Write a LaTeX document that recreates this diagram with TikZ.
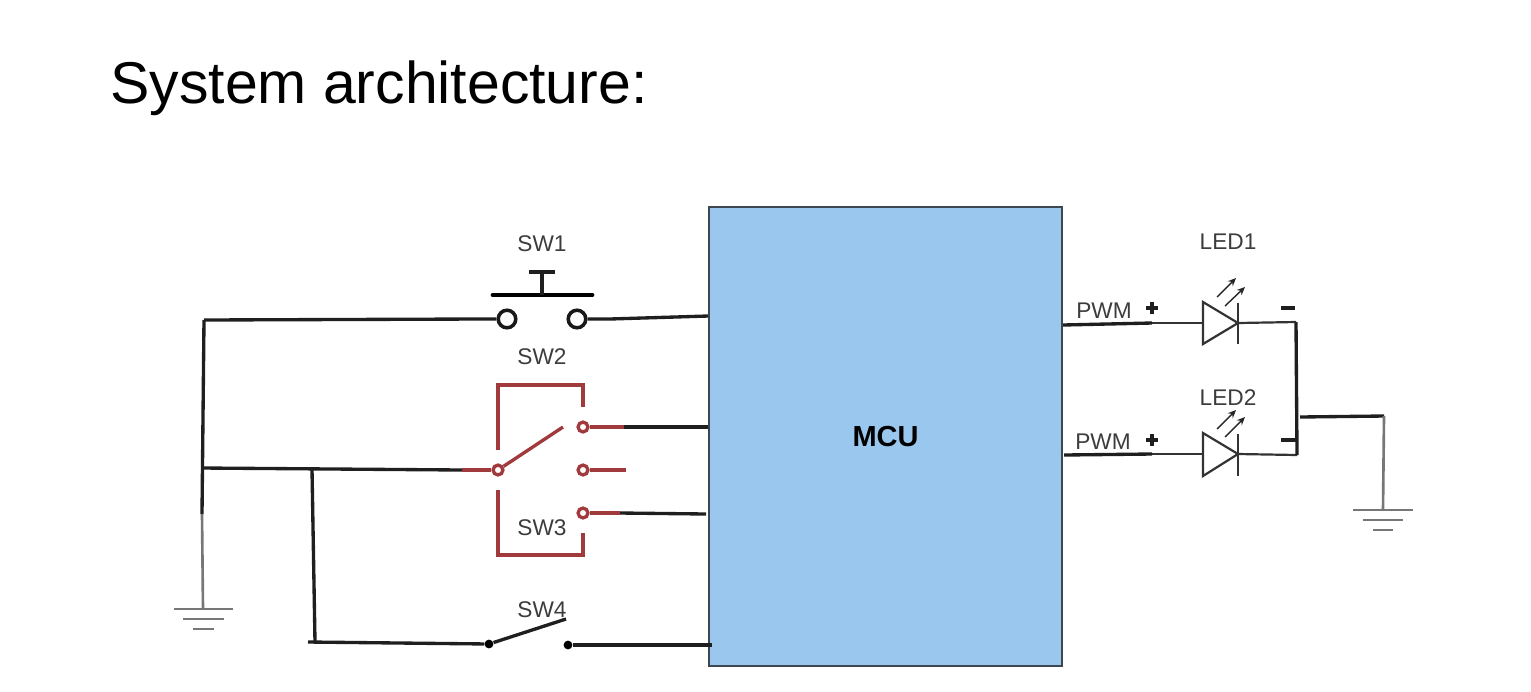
\documentclass[tikz,border=0pt]{standalone}
\usepackage{fontspec}
\setmainfont{Liberation Sans}
\usepackage{tkz-euclide}
\usetikzlibrary{arrows.meta}

\definecolor{mcufill}{HTML}{99C7EE}
\definecolor{mculine}{HTML}{3E4650}
\definecolor{swred}{HTML}{A03A3C}
\definecolor{wiregray}{HTML}{777777}
\definecolor{lblgray}{HTML}{3C3C3C}

\tikzset{
  wire/.style={line width=1.9pt, black!88},
  thinwire/.style={line width=1.25pt, black!80},
  grayline/.style={line width=1.5pt, wiregray},
  redline/.style={line width=1.9pt, swred},
  term/.style={circle, draw=black!90, line width=2pt, fill=white, minimum size=10pt, inner sep=0pt},
  redterm/.style={circle, draw=swred, line width=1.9pt, fill=white, minimum size=5.6pt, inner sep=0pt},
  soldot/.style={circle, fill=black, minimum size=5pt, inner sep=0pt},
  lbl/.style={text=lblgray, font=\fontsize{12.9}{15}\selectfont, inner sep=0pt},
  lightarrow/.style={line width=.8pt, black!85, -{Stealth[length=4.6pt,width=4pt]}}
}

\begin{document}
\begin{tikzpicture}[x=0.02cm,y=-0.02cm] %uma unidade = um pixel da imagem

\useasboundingbox (0,0) rectangle (1531,691);

%Pontos do circuito (x/y/NomedoPonto)
\tkzDefPoints{
204/320/A,
202/468/B,
202/514/C,
203/609/D,
312/469/E,
315/642/F,
308/642/G,
478/319/H,
610/319/I,
708/316/J,
462/470/K,
624/427/L,
708/427/M,
626/470/N,
620/513/O,
706/514/P,
712/645/Q,
1063/325/R,
1152/323/S,
1064/455/T,
1152/454/U,
1296/322/V,
1297/455/W,
1300/417/X,
1384/416/Y,
1383/510/Z}

%Titulo
%---------------------------------------------------
\node[anchor=base west, inner sep=0pt, font=\fontsize{33.55}{38}\selectfont] (title) at (110,103) {System architecture:};
%---------------------------------------------------

%Bloco do MCU
%---------------------------------------------------
\node[draw=mculine, fill=mcufill, line width=1.3pt, minimum width=7.06cm, minimum height=9.18cm, inner sep=0pt, font=\fontsize{16.5}{18}\bfseries\selectfont] (MCU) at (885.5,436.5) {MCU};
%---------------------------------------------------

%Rotulos
%---------------------------------------------------
\node[lbl] (labelSW1) at (542,244) {SW1};
\node[lbl] (labelSW2) at (542,357) {SW2};
\node[lbl] (labelSW3) at (542,528) {SW3};
\node[lbl] (labelSW4) at (542,610) {SW4};
\node[lbl] (labelLED1) at (1228,242) {LED1};
\node[lbl] (labelLED2) at (1228,398) {LED2};
\node[lbl] (labelPWM1) at (1104,311) {PWM};
\node[lbl] (labelPWM2) at (1103,442) {PWM};
%---------------------------------------------------

%Chave SW1: botao com dois terminais
%---------------------------------------------------
\node[term] (T1) at (507,319) {};
\node[term] (T2) at (577,319) {};
\tkzDefPoints{493/295/Sa, 592/295/Sb, 542/295/Sc, 542/272/Sd, 529/272/Se, 555/272/Sf}
\draw[line width=2.7pt, black, line cap=round] (Sa) -- (Sb);
\draw[wire] (Sc) -- (Sd);
\draw[wire] (Se) -- (Sf);
\draw[wire] (A) -- (H) -- (T1);
\draw[wire] (T2) -- (I) -- (J);
%---------------------------------------------------

%Chave SW2/SW3: moldura e alavanca em vermelho
%---------------------------------------------------
\tkzDefPoints{498/450/Fa, 498/385/Fb, 583/385/Fc, 583/407/Fd, 498/490/Fe, 498/555/Ff, 583/555/Fg, 583/533/Fh, 563/427/Fi}
\node[redterm] (C0) at (498,470) {};
\node[redterm] (C1) at (583,427) {};
\node[redterm] (C2) at (583,470) {};
\node[redterm] (C3) at (583,513) {};
\draw[redline] (Fa) -- (Fb) -- (Fc) -- (Fd);
\draw[redline] (Fe) -- (Ff) -- (Fg) -- (Fh);
\draw[redline] (C0) -- (Fi);
\draw[redline] (K) -- (C0);
\draw[redline] (C1) -- (L);
\draw[redline] (C2) -- (N);
\draw[redline] (C3) -- (O);
\draw[wire] (L) -- (M);
\draw[wire] (O) -- (P);
%---------------------------------------------------

%Chave SW4: contato aberto
%---------------------------------------------------
\node[soldot] (D1) at (489,644) {};
\node[soldot] (D2) at (568,645) {};
\tkzDefPoints{566/619/Ga}
\draw[wire] (D1) -- (Ga);
\draw[wire] (G) -- (D1);
\draw[wire] (D2) -- (Q);
%---------------------------------------------------

%Fios da esquerda e terra
%---------------------------------------------------
\draw[wire] (A) -- (C);
\draw[wire] (B) -- (K);
\draw[wire] (E) -- (F);
\draw[grayline] (C) -- (D);
\tkzDefPoints{174/609/Ha, 233/609/Hb, 183/619/Hc, 224/619/Hd, 193/629/He, 214/629/Hf}
\draw[grayline] (Ha) -- (Hb);
\draw[grayline] (Hc) -- (Hd);
\draw[grayline] (He) -- (Hf);
%---------------------------------------------------

%LED1 com setas de luz
%---------------------------------------------------
\tkzDefPoints{1203/302/La, 1203/344/Lb, 1238/323/Lc, 1238/303/Ld, 1238/344/Le,
1203/323/Lj, 1217/297/Lf, 1236/278/Lg, 1225/306/Lh, 1245/287/Li}
\draw[thinwire] (La) -- (Lb) -- (Lc) -- cycle;
\draw[thinwire] (Ld) -- (Le);
\draw[lightarrow] (Lf) -- (Lg);
\draw[lightarrow] (Lh) -- (Li);
\draw[wire] (R) -- (S);
\draw[thinwire] (S) -- (Lj);
\draw[thinwire] (Lc) -- (V);
%---------------------------------------------------

%LED2 com setas de luz
%---------------------------------------------------
\tkzDefPoints{1203/433/Ma, 1203/476/Mb, 1238/454/Mc, 1238/434/Md, 1238/476/Me,
1203/454/Mj, 1217/429/Mf, 1236/410/Mg, 1225/437/Mh, 1245/417/Mi}
\draw[thinwire] (Ma) -- (Mb) -- (Mc) -- cycle;
\draw[thinwire] (Md) -- (Me);
\draw[lightarrow] (Mf) -- (Mg);
\draw[lightarrow] (Mh) -- (Mi);
\draw[wire] (T) -- (U);
\draw[thinwire] (U) -- (Mj);
\draw[thinwire] (Mc) -- (W);
%---------------------------------------------------

%Sinais + e - dos LEDs
%---------------------------------------------------
\tkzDefPoints{1146/308/Pa, 1158/308/Pb, 1152/302/Pc, 1152/314/Pd, 1146/440/Pe, 1158/440/Pf, 1152/434/Pg, 1152/446/Ph,
1281/308/Pi, 1295/308/Pj, 1281/440/Pk, 1295/440/Pl}
\draw[wire] (Pa) -- (Pb);
\draw[wire] (Pc) -- (Pd);
\draw[wire] (Pe) -- (Pf);
\draw[wire] (Pg) -- (Ph);
\draw[wire] (Pi) -- (Pj);
\draw[wire] (Pk) -- (Pl);
%---------------------------------------------------

%Saida para a terra
%---------------------------------------------------
\draw[wire] (V) -- (W);
\draw[wire] (X) -- (Y);
\draw[grayline] (Y) -- (Z);
\tkzDefPoints{1353/510/Ka, 1413/510/Kb, 1363/520/Kc, 1403/520/Kd, 1373/530/Ke, 1393/530/Kf}
\draw[grayline] (Ka) -- (Kb);
\draw[grayline] (Kc) -- (Kd);
\draw[grayline] (Ke) -- (Kf);
%---------------------------------------------------

\end{tikzpicture}
\end{document}
